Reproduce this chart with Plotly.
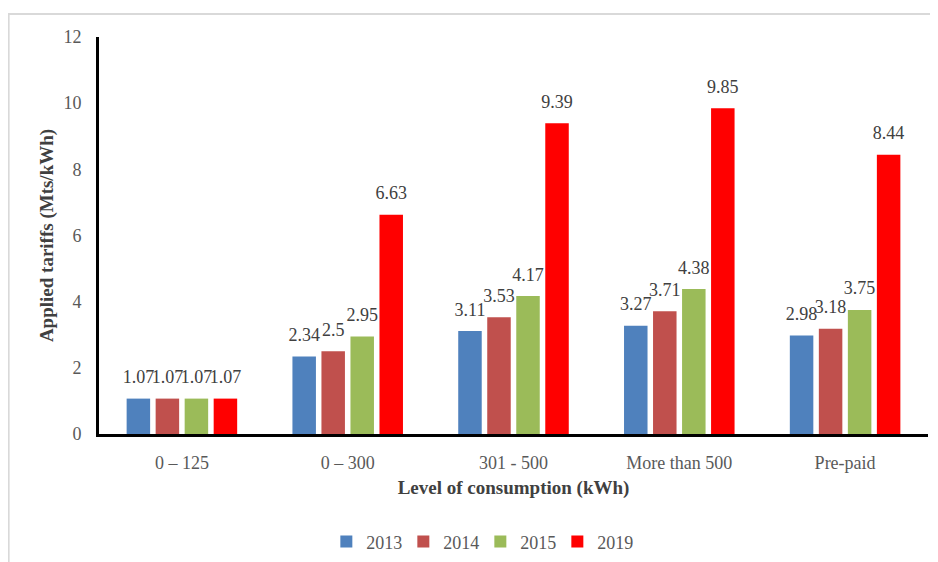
import plotly.graph_objects as go

categories = ["0 – 125", "0 – 300", "301 - 500", "More than 500", "Pre-paid"]
years = ["2013", "2014", "2015", "2019"]
tariffs_2013 = [1.07, 2.34, 3.11, 3.27, 2.98]
tariffs_2014 = [1.07, 2.5, 3.53, 3.71, 3.18]
tariffs_2015 = [1.07, 2.95, 4.17, 4.38, 3.75]
tariffs_2019 = [1.07, 6.63, 9.39, 9.85, 8.44]

series = [tariffs_2013, tariffs_2014, tariffs_2015, tariffs_2019]
colors = ["#4F81BD", "#C0504D", "#9BBB59", "#FF0000"]
serif = "Liberation Serif"

fig = go.Figure()
for year, values, color in zip(years, series, colors):
    fig.add_trace(
        go.Bar(
            x=categories,
            y=values,
            name=year,
            offsetgroup=year,
            marker={"color": color, "line": {"width": 0}},
        )
    )
# value labels: invisible markers grouped like the bars, text sits above them
for year, values in zip(years, series):
    fig.add_trace(
        go.Scatter(
            x=categories,
            y=values,
            offsetgroup=year,
            mode="markers+text",
            marker={"size": 16, "opacity": 0},
            text=[f"{v:g}" for v in values],
            textposition="top center",
            textfont={"family": serif, "size": 18, "color": "#404040"},
            cliponaxis=False,
            showlegend=False,
            hoverinfo="skip",
        )
    )

# the page body adds an 8px offset, so the figure is sized to fit inside the window
fig.update_layout(
    width=930,
    height=554,
    paper_bgcolor="white",
    plot_bgcolor="white",
    barmode="group",
    bargap=0.30,
    bargroupgap=0.19,
    scattermode="group",
    scattergap=0.30,
    margin={"l": 91, "r": 10, "t": 29, "b": 128, "autoexpand": False},
    font={"family": serif, "color": "#595959"},
    showlegend=True,
    legend={
        "orientation": "h",
        "x": 0.46,
        "xanchor": "center",
        "y": -0.225,
        "yanchor": "top",
        "font": {"family": serif, "size": 18, "color": "#595959"},
        "itemwidth": 30,
        "entrywidth": 32,
        "traceorder": "normal",
    },
)
fig.update_xaxes(
    automargin=False,
    showline=True,
    linecolor="black",
    linewidth=3,
    showgrid=False,
    ticks="",
    ticklabelstandoff=10,
    tickfont={"family": serif, "size": 18, "color": "#595959"},
    title={
        "text": "<b>Level of consumption (kWh)</b>",
        "font": {"family": serif, "size": 19, "color": "#404040"},
        "standoff": 10,
    },
)
fig.update_yaxes(
    automargin=False,
    range=[0, 12],
    dtick=2,
    showline=True,
    linecolor="black",
    linewidth=3,
    showgrid=False,
    zeroline=False,
    ticks="",
    ticklabelstandoff=11,
    tickfont={"family": serif, "size": 18, "color": "#595959"},
    title={
        "text": "<b>Applied tariffs (Mts/kWh)</b>",
        "font": {"family": serif, "size": 19, "color": "#404040"},
        "standoff": 5,
    },
)

# light chart border (top and left edges visible in the crop)
fig.add_shape(type="line", xref="paper", yref="paper", x0=-0.11, x1=1.2,
              y0=1.058, y1=1.058, line={"color": "#D9D9D9", "width": 2})
fig.add_shape(type="line", xref="paper", yref="paper", x0=-0.109, x1=-0.109,
              y0=-0.5, y1=1.058, line={"color": "#D9D9D9", "width": 2})

fig.write_html("out.html")
